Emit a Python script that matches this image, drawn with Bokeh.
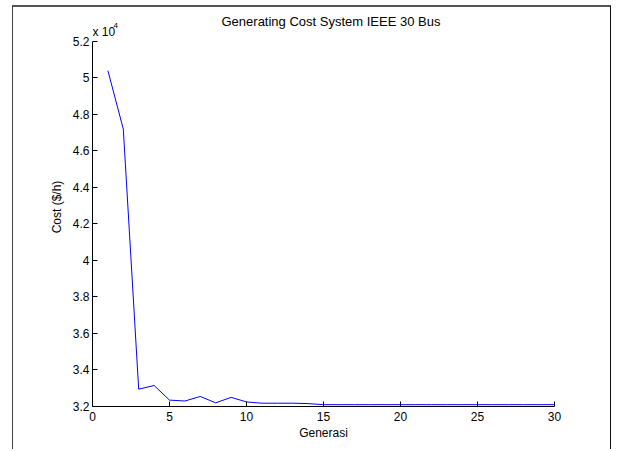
from bokeh.plotting import figure
from bokeh.models import Range1d, FixedTicker, CustomJSTickFormatter
from bokeh.core.properties import value
from bokeh.embed import file_html
from bokeh.resources import INLINE

# Data: generating cost ($/h) per generation
generasi = list(range(1, 31))
cost = [50400, 47200, 32950, 33150, 32350, 32300, 32550, 32200, 32500, 32250,
        32180, 32180, 32180, 32160, 32100, 32100, 32100, 32100, 32100, 32100,
        32100, 32100, 32100, 32100, 32100, 32100, 32100, 32100, 32100, 32100]
x_ticks = [0, 5, 10, 15, 20, 25, 30]
y_ticks = [32000, 34000, 36000, 38000, 40000, 42000, 44000, 46000, 48000, 50000, 52000]
title_text = "Generating Cost System IEEE 30 Bus"

FONT = "Liberation Sans"
Y_MIN, Y_MAX = y_ticks[0], y_ticks[-1]

# frame extends above the top tick so that the title and multiplier sit inside it
p = figure(width=599, height=444, output_backend="svg", toolbar_location=None,
           x_range=Range1d(0, 30), y_range=Range1d(Y_MIN, 53860),
           min_border_left=79, min_border_right=58, min_border_top=0, min_border_bottom=45,
           title=None,
           styles={"margin-left": "12px", "margin-top": "5px",
                   "border-top": "2px solid #555555",
                   "border-left": "1px solid #444444",
                   "border-right": "1px solid #111111"})

p.line(generasi, cost, line_color="#0000FF", line_width=1)

p.grid.visible = False
p.outline_line_color = None
p.background_fill_color = "white"
p.border_fill_color = "white"

# title and "x 10^4" multiplier, anchored at the top-left corner of the axes
p.text(x=[0], y=[Y_MAX], text=[title_text], x_offset=129, y_offset=-20,
       text_font=value(FONT), text_font_size="13px", text_color="black",
       text_baseline="middle", text_align="left")
p.text(x=[0], y=[Y_MAX], text=["x 10"], x_offset=0, y_offset=-9,
       text_font=value(FONT), text_font_size="12px", text_color="black",
       text_baseline="alphabetic", text_align="left")
p.text(x=[0], y=[Y_MAX], text=["4"], x_offset=21, y_offset=-16,
       text_font=value(FONT), text_font_size="8px", text_color="black",
       text_baseline="alphabetic", text_align="left")

for ax in (p.xaxis[0], p.yaxis[0]):
    ax.axis_line_color = "black"
    ax.major_tick_line_color = "black"
    ax.major_tick_in = 5
    ax.major_tick_out = 0
    ax.minor_tick_line_color = None
    ax.major_label_text_font = FONT
    ax.major_label_text_font_size = "12px"
    ax.major_label_text_color = "black"
    ax.axis_label_text_font = FONT
    ax.axis_label_text_font_size = "12px"
    ax.axis_label_text_font_style = "normal"
    ax.axis_label_text_color = "black"

p.xaxis.ticker = FixedTicker(ticks=x_ticks)
p.yaxis.ticker = FixedTicker(ticks=y_ticks)
p.yaxis.bounds = (Y_MIN, Y_MAX)
p.yaxis.formatter = CustomJSTickFormatter(code="return String(parseFloat((tick/1e4).toFixed(1)));")
p.xaxis.axis_label = "Generasi"
p.yaxis.axis_label = "Cost ($/h)"
p.xaxis.major_label_standoff = 5
p.xaxis.axis_label_standoff = 2
p.yaxis.major_label_standoff = 3
p.yaxis.axis_label_standoff = 6

open("out.html", "w").write(file_html(p, INLINE))
